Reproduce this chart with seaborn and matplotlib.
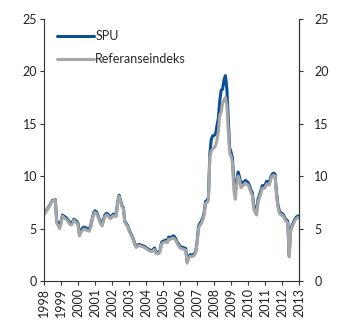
import numpy as np
import pandas as pd
import matplotlib
matplotlib.use("Agg")
import matplotlib.pyplot as plt
import seaborn as sns

# Monthly observations, January 1998 to January 2013 (percent)
spu = [
    6.4, 6.6, 6.8, 7.0, 7.2, 7.5, 7.7, 7.7, 7.75, 5.7, 5.6, 5.4,      # 1998
    5.6, 6.3, 6.2, 6.1, 6.0, 5.8, 5.6, 5.5, 5.6, 5.9, 5.8, 5.7,       # 1999
    5.5, 4.5, 4.8, 5.0, 5.15, 5.1, 5.05, 5.0, 4.95, 5.3, 5.9, 6.5,    # 2000
    6.7, 6.6, 6.3, 5.9, 5.6, 5.4, 5.9, 6.3, 6.45, 6.4, 6.2, 6.1,      # 2001
    6.25, 6.4, 6.35, 6.3, 7.6, 8.2, 7.7, 7.2, 7.0, 5.7, 5.5, 5.3,     # 2002
    4.9, 4.6, 4.3, 4.0, 3.6, 3.3, 3.4, 3.5, 3.45, 3.4, 3.35, 3.3,     # 2003
    3.2, 3.1, 3.0, 2.95, 2.9, 3.0, 3.15, 2.8, 2.7, 2.7, 3.0, 3.7,     # 2004
    3.8, 3.85, 3.9, 3.8, 4.2, 4.1, 4.2, 4.3, 4.25, 4.0, 3.7, 3.5,     # 2005
    3.3, 3.25, 3.2, 3.15, 3.1, 1.85, 2.3, 2.5, 2.5, 2.5, 2.6, 2.8,    # 2006
    3.7, 5.2, 5.5, 5.7, 6.0, 6.5, 7.6, 7.7, 7.9, 12.1, 13.5, 13.85,   # 2007
    13.9, 14.0, 14.8, 15.5, 17.2, 18.2, 18.3, 19.2, 19.6, 18.4, 15.5, 12.7,  # 2008
    12.3, 11.7, 9.2, 9.1, 9.6, 10.4, 9.9, 9.2, 9.4, 9.4, 9.6, 9.5,    # 2009
    9.4, 9.1, 8.7, 8.4, 7.2, 6.9, 6.7, 7.8, 8.2, 8.6, 9.1, 9.1,       # 2010
    9.15, 9.5, 9.5, 9.4, 9.9, 10.2, 10.3, 10.2, 8.5, 7.3, 6.7, 6.5,   # 2011
    6.45, 6.3, 6.0, 5.85, 5.7, 2.5, 4.9, 5.3, 5.6, 5.9, 6.1, 6.2,     # 2012
    6.2,                                                              # 2013
]

referanse = [
    6.35, 6.55, 6.75, 6.95, 7.15, 7.45, 7.65, 7.65, 7.7, 5.5, 5.3, 5.0,     # 1998
    5.4, 6.2, 6.05, 5.95, 5.85, 5.65, 5.45, 5.35, 5.45, 5.8, 5.65, 5.55,    # 1999
    5.35, 4.3, 4.6, 4.8, 4.95, 4.95, 4.85, 4.8, 4.75, 5.15, 5.75, 6.35,     # 2000
    6.55, 6.45, 6.15, 5.75, 5.45, 5.25, 5.75, 6.15, 6.3, 6.25, 6.05, 5.95,  # 2001
    6.1, 6.25, 6.2, 6.15, 7.5, 8.1, 7.6, 7.1, 6.9, 5.6, 5.4, 5.2,           # 2002
    4.8, 4.5, 4.2, 3.9, 3.5, 3.2, 3.3, 3.4, 3.35, 3.3, 3.25, 3.2,           # 2003
    3.1, 3.0, 2.9, 2.85, 2.8, 2.9, 3.0, 2.65, 2.6, 2.6, 2.9, 3.55,          # 2004
    3.65, 3.7, 3.75, 3.65, 4.0, 3.95, 4.05, 4.1, 4.05, 3.85, 3.55, 3.35,    # 2005
    3.15, 3.1, 3.05, 3.0, 2.95, 1.7, 2.15, 2.35, 2.35, 2.35, 2.45, 2.65,    # 2006
    3.55, 5.0, 5.3, 5.5, 5.8, 6.3, 7.4, 7.5, 7.7, 11.8, 12.4, 12.6,         # 2007
    12.7, 12.9, 13.4, 14.2, 15.8, 16.1, 17.0, 17.3, 17.5, 16.8, 14.4, 12.2, # 2008
    11.9, 11.3, 8.6, 7.8, 9.2, 10.0, 9.6, 8.9, 9.1, 9.15, 9.35, 9.25,       # 2009
    9.15, 8.85, 8.45, 8.15, 6.9, 6.5, 6.3, 7.5, 7.95, 8.35, 8.85, 8.85,     # 2010
    8.9, 9.25, 9.25, 9.15, 9.7, 10.0, 10.1, 10.0, 8.3, 7.1, 6.5, 6.3,       # 2011
    6.3, 6.15, 5.85, 5.7, 5.5, 2.3, 4.7, 5.15, 5.45, 5.75, 5.95, 6.05,      # 2012
    6.05,                                                                   # 2013
]

year_ticks = list(range(1998, 2014))
y_ticks = [0, 5, 10, 15, 20, 25]

dates = 1998 + np.arange(len(spu)) / 12.0
df = pd.DataFrame({"dato": dates, "SPU": spu, "Referanseindeks": referanse})
long = df.melt(id_vars="dato", var_name="serie", value_name="verdi")

sns.set_theme(style="white")
plt.rcParams["font.family"] = ["Lato", "DejaVu Sans"]
plt.rcParams["font.size"] = 9

fig = plt.figure(figsize=(3.45, 3.23), dpi=100)
ax = fig.add_axes([0.1275, 0.130, 0.7395, 0.811])

sns.lineplot(
    data=long, x="dato", y="verdi", hue="serie",
    hue_order=["SPU", "Referanseindeks"],
    palette={"SPU": "#0b4f94", "Referanseindeks": "#a6a6a6"},
    linewidth=2.2, ax=ax, legend=True,
)

ax.set_xlim(1998, 2013)
ax.set_ylim(0, 25)
ax.set_xticks(year_ticks)
ax.set_xticklabels([str(y) for y in year_ticks], rotation=90)
ax.set_yticks(y_ticks)
ax.set_xlabel("")
ax.set_ylabel("")

ax.spines["top"].set_visible(False)
for side in ["left", "right", "bottom"]:
    ax.spines[side].set_visible(True)
    ax.spines[side].set_color("#333333")
    ax.spines[side].set_linewidth(0.8)

ax.tick_params(axis="both", which="major", direction="out", length=3,
               width=0.8, color="#333333", labelsize=9, labelcolor="#222222",
               pad=2, bottom=True, left=True)

ax2 = ax.twinx()
ax2.set_ylim(0, 25)
ax2.set_yticks(y_ticks)
ax2.spines["top"].set_visible(False)
ax2.spines["left"].set_visible(False)
ax2.spines["bottom"].set_visible(False)
ax2.spines["right"].set_color("#333333")
ax2.spines["right"].set_linewidth(0.8)
ax2.tick_params(axis="y", direction="out", length=3, width=0.8,
                color="#333333", labelsize=9, labelcolor="#222222",
                pad=8, right=True)
ax2.grid(False)
ax.grid(False)

handles, labels = ax.get_legend_handles_labels()
ax.legend(handles, labels, loc="upper left", bbox_to_anchor=(0.02, 0.985),
          frameon=False, fontsize=9, handlelength=3.0, handletextpad=0.1,
          labelspacing=0.85, borderaxespad=0.2)

fig.savefig("out.png", dpi=100)
